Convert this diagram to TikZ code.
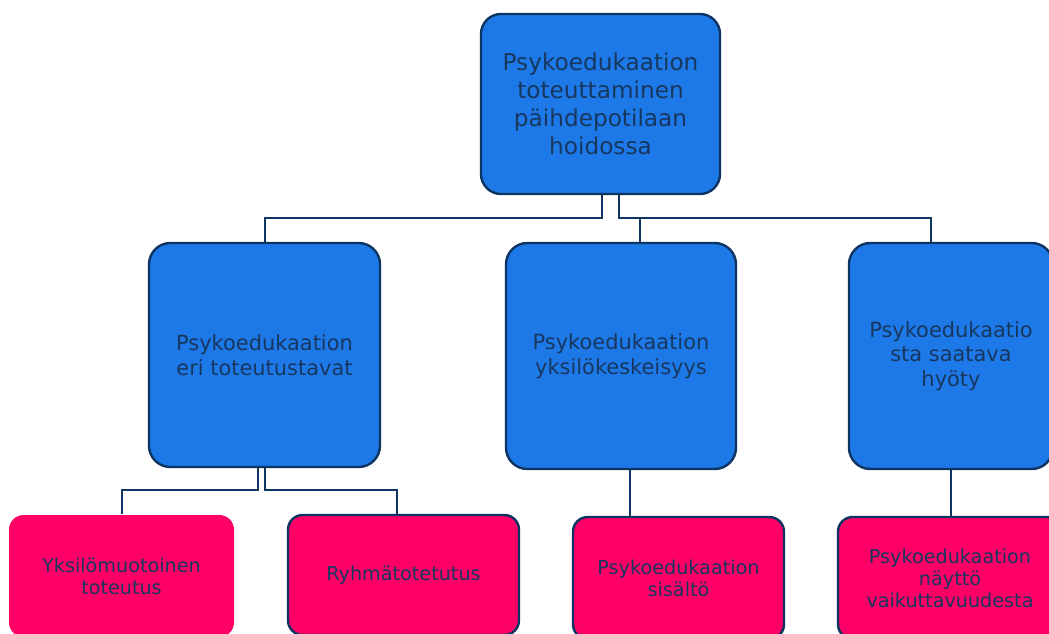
\documentclass[tikz,border=0pt]{standalone}
\usepackage{fontspec}
\setmainfont{DejaVu Sans}
\usepackage{tikz}
\usetikzlibrary{positioning, calc}
\definecolor{navyline}{HTML}{0E3461}
\definecolor{navytext}{HTML}{17375E}
\definecolor{boxblue}{HTML}{1E79E8}
\definecolor{boxpink}{HTML}{FF0066}
\tikzset{
    mainbox/.style={rectangle, rounded corners=15pt, align=center, draw=navyline, line width=1.8pt, fill=boxblue, text=navytext, font=\fontsize{17.4}{21}\selectfont},
    themebox/.style={rectangle, rounded corners=16pt, align=center, draw=navyline, line width=1.8pt, fill=boxblue, text=navytext, font=\fontsize{15.7}{18.5}\selectfont},
    leafbox/.style={rectangle, rounded corners=11pt, align=center, draw=navyline, line width=1.8pt, fill=boxpink, text=navytext, font=\fontsize{14.4}{16.5}\selectfont},
    link/.style={line width=1.5pt, color=navyline}
}
\begin{document}
\begin{tikzpicture}[x=0.75pt, y=-0.75pt]
    \clip (0,0) rectangle (1049,633);
    \fill[white] (0,0) rectangle (1049,633);

    \node (top) [mainbox, minimum width=179.25pt, minimum height=135pt] at (600.5,104) {Psykoedukaation\\toteuttaminen\\päihdepotilaan\\hoidossa};

    \node (kind) [themebox, minimum width=173.25pt, minimum height=168pt] at (264.5,355) {Psykoedukaation\\eri toteutustavat};
    \node (focus) [themebox, minimum width=172.5pt, minimum height=169.5pt] at (621,356) {Psykoedukaation\\yksilökeskeisyys};
    \node (benefit) [themebox, minimum width=153pt, minimum height=169.5pt] at (951,356) {Psykoedukaatio\\sta saatava\\hyöty};

    \node (single) [leafbox, draw=none, minimum width=168.75pt, minimum height=91.5pt] at (121.5,576) {Yksilömuotoinen\\toteutus};
    \node (group) [leafbox, minimum width=173.25pt, minimum height=90pt] at (403.5,575) {Ryhmätotetutus};
    \node (content) [leafbox, minimum width=158.25pt, minimum height=91.5pt] at (678.5,578) {Psykoedukaation\\sisältö};
    \node (evidence) [leafbox, minimum width=168pt, minimum height=91.5pt] at (950,578) {Psykoedukaation\\näyttö\\vaikuttavuudesta};

    \draw [link] ([xshift=1.1pt]top.south) -- ++(0,23) -| (kind.north);
    \draw [link] ([xshift=13.9pt]top.south) -- ++(0,23) -| ([xshift=14.25pt]focus.north);
    \draw [link] ([xshift=13.9pt]top.south) -- ++(0,23) -| ([xshift=-15pt]benefit.north);

    \draw [link] ([xshift=-4.9pt]kind.south) -- ++(0,22) -| (single.north);
    \draw [link] (kind.south) -- ++(0,22) -| ([xshift=-4.9pt]group.north);
    \draw [link] ([xshift=6.75pt]focus.south) -- ([xshift=6.75pt]focus.south |- content.north);
    \draw [link] (benefit.south) -- (benefit.south |- evidence.north);
\end{tikzpicture}
\end{document}
